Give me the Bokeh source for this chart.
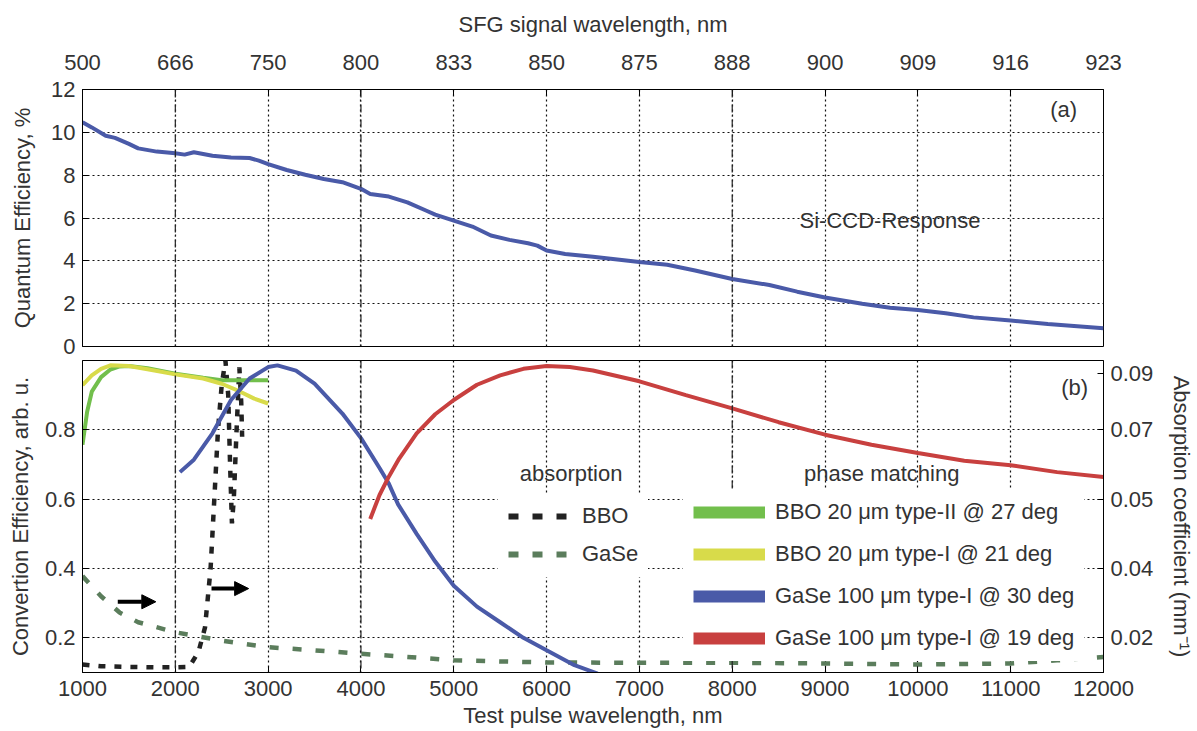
import numpy as np
from bokeh.plotting import figure
from bokeh.models import (LinearAxis, FixedTicker, Span, Label, Legend, LegendItem,
                          Arrow, NormalHead, ColumnDataSource)
from bokeh.layouts import column
from bokeh.embed import file_html
from bokeh.resources import INLINE

FONT = "Liberation Sans"
TXT = "#333333"

# ---------------- data ----------------
x_ticks = [1000, 2000, 3000, 4000, 5000, 6000, 7000, 8000, 9000, 10000, 11000, 12000]
sfg_labels = ["500", "666", "750", "800", "833", "850", "875", "888", "900", "909", "916", "923"]
marked_wl = [2000, 4000, 8000]

qe_y_ticks = [0, 2, 4, 6, 8, 10, 12]
conv_y_ticks = [0.2, 0.4, 0.6, 0.8]
abs_tick_pos = [0.2, 0.4, 0.6, 0.8, 0.962]
abs_tick_labels = ["0.02", "0.04", "0.05", "0.07", "0.09"]

qe_wl = [1000, 1100, 1250, 1350, 1500, 1600, 1800, 2000, 2100, 2200, 2400, 2600, 2800, 2900,
         3000, 3200, 3400, 3600, 3800, 4000, 4100, 4300, 4500, 4700, 4800, 5000, 5200, 5400,
         5600, 5800, 5900, 6000, 6200, 6500, 7000, 7300, 7600, 8000, 8400, 8700, 9000, 9400,
         9700, 10000, 10300, 10600, 11000, 11400, 12000]
qe_val = [10.47, 10.23, 9.84, 9.74, 9.46, 9.25, 9.1, 9.02, 8.96, 9.07, 8.91, 8.83, 8.8, 8.68,
          8.52, 8.24, 8.02, 7.82, 7.67, 7.36, 7.12, 7.0, 6.73, 6.35, 6.16, 5.88, 5.6, 5.18,
          4.98, 4.82, 4.71, 4.48, 4.32, 4.19, 3.95, 3.82, 3.55, 3.15, 2.87, 2.56, 2.29, 2.0,
          1.81, 1.7, 1.55, 1.36, 1.21, 1.05, 0.85]

bbo2_wl = [1000, 1050, 1100, 1200, 1300, 1400, 1500, 1700, 2000, 2300, 2500, 2700, 3000]
bbo2_val = [0.757, 0.852, 0.91, 0.952, 0.974, 0.983, 0.984, 0.978, 0.962, 0.95, 0.943, 0.943, 0.943]

bbo1_wl = [1000, 1100, 1200, 1300, 1500, 1700, 2000, 2300, 2500, 2700, 2850, 3000]
bbo1_val = [0.929, 0.957, 0.976, 0.986, 0.984, 0.975, 0.96, 0.948, 0.933, 0.91, 0.89, 0.876]

gase30_wl = [2050, 2200, 2400, 2600, 2800, 3000, 3100, 3300, 3500, 3800, 4000, 4200, 4300,
             4400, 4600, 4800, 5000, 5250, 5500, 5750, 6000, 6300, 6550]
gase30_val = [0.678, 0.714, 0.79, 0.886, 0.948, 0.981, 0.986, 0.971, 0.933, 0.847, 0.776, 0.69,
              0.645, 0.585, 0.5, 0.42, 0.35, 0.29, 0.245, 0.2, 0.164, 0.121, 0.097]

gase19_wl = [4100, 4200, 4300, 4412, 4600, 4800, 5000, 5250, 5500, 5750, 6000, 6250, 6500,
             7000, 7500, 8000, 8500, 9000, 9500, 10000, 10500, 11000, 11500, 12000]
gase19_val = [0.543, 0.612, 0.665, 0.717, 0.79, 0.845, 0.886, 0.93, 0.957, 0.976, 0.984, 0.981,
              0.971, 0.94, 0.9, 0.862, 0.822, 0.786, 0.757, 0.733, 0.711, 0.698, 0.678, 0.664]

bbo_abs_wl = [1000, 1200, 1500, 1800, 2000, 2150, 2250, 2320, 2380, 2420, 2460, 2500, 2540,
              2570, 2590, 2610, 2630, 2660, 2690, 2710, 2720]
bbo_abs_val = [0.123, 0.118, 0.116, 0.115, 0.115, 0.116, 0.16, 0.23, 0.4, 0.6, 0.8, 0.93, 1.0,
               0.9, 0.7, 0.53, 0.6, 0.8, 0.98, 0.88, 0.78]

gase_abs_wl = [1000, 1200, 1400, 1600, 2000, 2500, 3000, 3500, 4000, 4500, 5000, 6000, 7000,
               8000, 9000, 10000, 11000, 11500, 12000]
gase_abs_val = [0.378, 0.32, 0.273, 0.245, 0.216, 0.192, 0.173, 0.164, 0.154, 0.145, 0.135,
                0.129, 0.128, 0.128, 0.126, 0.123, 0.126, 0.135, 0.145]

arrow_x0 = [1380, 2390]
arrow_x1 = [1790, 2790]
arrow_y = [0.304, 0.342]

C_BLUE = "#4a5aa8"
C_GREEN = "#72bf4c"
C_YELLOW = "#d8db4a"
C_RED = "#c8403f"
C_GASE_ABS = "#5b7d5c"
C_BBO_ABS = "#222222"


def style_axis(ax, standoff, title_standoff):
    ax.major_label_text_font = FONT
    ax.major_label_text_font_size = "22px"
    ax.major_label_text_color = TXT
    ax.axis_label_text_font = FONT
    ax.axis_label_text_font_size = "22px"
    ax.axis_label_text_font_style = "normal"
    ax.axis_label_text_color = TXT
    ax.major_tick_in = 6
    ax.major_tick_out = 0
    ax.minor_tick_in = 0
    ax.minor_tick_out = 0
    ax.axis_line_color = "black"
    ax.major_tick_line_color = "black"
    ax.major_label_standoff = standoff
    ax.axis_label_standoff = title_standoff


def style_grid(p, xt, yt):
    p.xgrid[0].ticker = FixedTicker(ticks=xt)
    p.ygrid[0].ticker = FixedTicker(ticks=yt)
    for g in (p.xgrid[0], p.ygrid[0]):
        g.grid_line_color = "#111111"
        g.grid_line_alpha = 1.0
        g.grid_line_dash = "2 3"
        g.grid_line_width = 1.2
    p.outline_line_color = "black"
    p.outline_line_width = 1
    p.outline_line_alpha = 1


# ---------------- panel (a) ----------------
p1 = figure(width=1197, height=360, x_range=(1000, 12000), y_range=(0, 12),
            x_axis_location="above", output_backend="svg", toolbar_location=None,
            min_border_top=89, min_border_bottom=14, min_border_left=82, min_border_right=92,
            background_fill_color="white", border_fill_color="white")
xa = p1.xaxis[0]
xa.ticker = FixedTicker(ticks=x_ticks)
xa.major_label_overrides = dict(zip(x_ticks, sfg_labels))
xa.axis_label = "SFG signal wavelength, nm"
style_axis(xa, 20, 15)
ya = p1.yaxis[0]
ya.ticker = FixedTicker(ticks=qe_y_ticks)
ya.axis_label = "Quantum Efficiency, %"
style_axis(ya, 7, 13)
style_grid(p1, x_ticks, qe_y_ticks)

p1.line(qe_wl, qe_val, line_color=C_BLUE, line_width=4)

p1.add_layout(Label(x=9700, y=5.9, text="Si-CCD-Response", text_align="center",
                    text_baseline="middle", text_font=FONT, text_font_size="22px",
                    text_color=TXT))
p1.add_layout(Label(x=11570, y=11.07, text="(a)", text_align="center",
                    text_baseline="middle", text_font=FONT, text_font_size="22px",
                    text_color=TXT))
for w in marked_wl:
    p1.add_layout(Span(location=w, dimension="height", line_color="#222222",
                       line_dash="8 3 1 3", line_width=1.2, level="overlay"))

# ---------------- panel (b) ----------------
p2 = figure(width=1197, height=371, x_range=p1.x_range, y_range=(0.1, 1.0),
            output_backend="svg", toolbar_location=None,
            min_border_top=0, min_border_bottom=59, min_border_left=82, min_border_right=92,
            background_fill_color="white", border_fill_color="white")
xb = p2.xaxis[0]
xb.ticker = FixedTicker(ticks=x_ticks)
xb.axis_label = "Test pulse wavelength, nm"
style_axis(xb, 8, 4)
yb = p2.yaxis[0]
yb.ticker = FixedTicker(ticks=conv_y_ticks)
yb.axis_label = "Convertion Efficiency, arb. u."
style_axis(yb, 7, 9)
yr = LinearAxis(ticker=FixedTicker(ticks=abs_tick_pos),
                major_label_overrides=dict(zip(abs_tick_pos, abs_tick_labels)),
                axis_label="Absorption coefficient (mm⁻¹)")
style_axis(yr, 7, 13)
p2.add_layout(yr, "right")
style_grid(p2, x_ticks, conv_y_ticks)

p2.line(gase_abs_wl, gase_abs_val, line_color=C_GASE_ABS, line_width=4.5, line_dash="9 14")
p2.line(bbo_abs_wl, bbo_abs_val, line_color=C_BBO_ABS, line_width=4.5, line_dash="7 9")
p2.line(bbo2_wl, bbo2_val, line_color=C_GREEN, line_width=4)
p2.line(bbo1_wl, bbo1_val, line_color=C_YELLOW, line_width=4)
p2.line(gase30_wl, gase30_val, line_color=C_BLUE, line_width=4)
p2.line(gase19_wl, gase19_val, line_color=C_RED, line_width=4)

arr_src = ColumnDataSource(dict(x0=arrow_x0, x1=arrow_x1, y=arrow_y))
p2.add_layout(Arrow(x_start="x0", y_start="y", x_end="x1", y_end="y", source=arr_src,
                    line_width=4, line_color="black",
                    end=NormalHead(size=14, fill_color="black", line_color="black")))

# legend-only renderers (a single NaN point: nothing is drawn in the plot)
nan = [np.nan]
lg_bbo = p2.line(nan, nan, line_color=C_BBO_ABS, line_width=6, line_dash="10 14")
lg_gase = p2.line(nan, nan, line_color=C_GASE_ABS, line_width=6, line_dash="10 14")
lg_g = p2.line(nan, nan, line_color=C_GREEN, line_width=12)
lg_y = p2.line(nan, nan, line_color=C_YELLOW, line_width=12)
lg_b = p2.line(nan, nan, line_color=C_BLUE, line_width=12)
lg_r = p2.line(nan, nan, line_color=C_RED, line_width=12)


def make_legend(items, loc, gw, spacing, standoff):
    return Legend(items=items, location=loc, glyph_width=gw, glyph_height=26,
                  label_height=26, spacing=spacing, padding=10, margin=0,
                  label_standoff=standoff, label_text_font=FONT,
                  label_text_font_size="22px", label_text_color=TXT,
                  background_fill_color="white", background_fill_alpha=1,
                  border_line_alpha=0)


abs_leg = make_legend([LegendItem(label="BBO", renderers=[lg_bbo]),
                       LegendItem(label="GaSe", renderers=[lg_gase])],
                      (416, 95), 59, 12, 15)
pm_leg = make_legend([LegendItem(label="BBO 20 μm type-II @ 27 deg", renderers=[lg_g]),
                      LegendItem(label="BBO 20 μm type-I @ 21 deg", renderers=[lg_y]),
                      LegendItem(label="GaSe 100 μm type-I @ 30 deg", renderers=[lg_b]),
                      LegendItem(label="GaSe 100 μm type-I @ 19 deg", renderers=[lg_r])],
                     (601, 11), 72, 16, 10)
p2.add_layout(abs_leg, "center")
p2.add_layout(pm_leg, "center")

p2.add_layout(Label(x=6264, y=0.674, text="absorption", text_align="center",
                    text_baseline="middle", text_font=FONT, text_font_size="22px",
                    text_color=TXT))
p2.add_layout(Label(x=9611, y=0.674, text="phase matching", text_align="center",
                    text_baseline="middle", text_font=FONT, text_font_size="22px",
                    text_color=TXT))
p2.add_layout(Label(x=11690, y=0.923, text="(b)", text_align="center",
                    text_baseline="middle", text_font=FONT, text_font_size="22px",
                    text_color=TXT))
for w in marked_wl:
    p2.add_layout(Span(location=w, dimension="height", line_color="#222222",
                       line_dash="8 3 1 3", line_width=1.2, level="overlay"))

layout = column(p1, p2, spacing=0)
open("out.html", "w").write(file_html(layout, INLINE))
